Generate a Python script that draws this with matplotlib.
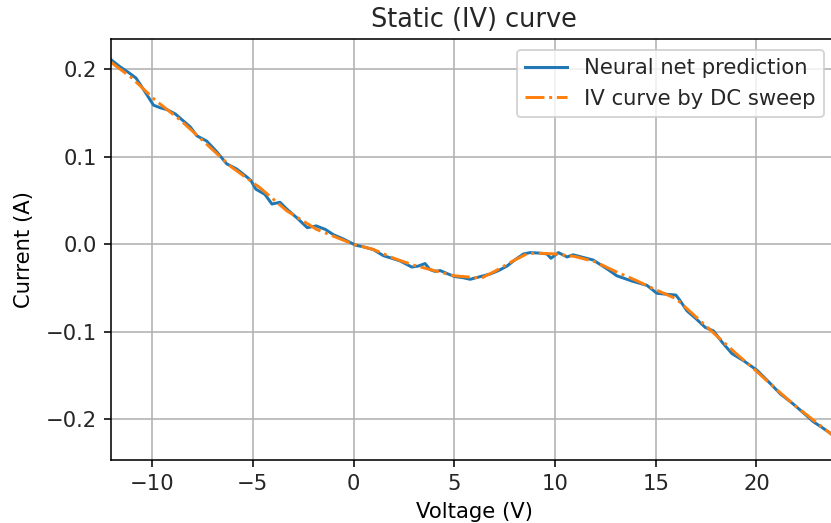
import matplotlib
matplotlib.use("Agg")
import matplotlib.pyplot as plt

## --- Data ---
voltage_nn = [-12.04, -11.6, -11.15, -10.8, -10.4, -9.93, -9.6, -9.27, -8.85, -8.45,
              -8.1, -7.78, -7.29, -6.8, -6.3, -5.8, -5.3, -5.1, -4.85, -4.4,
              -4.05, -3.65, -3.3, -2.8, -2.3, -1.85, -1.4, -1.0, -0.5, 0.1,
              0.5, 0.98, 1.48, 1.9, 2.31, 2.89, 3.2, 3.55, 3.8, 4.05,
              4.3, 4.7, 5.04, 5.4, 5.79, 6.28, 6.78, 7.2, 7.61, 8.0,
              8.44, 8.77, 9.2, 9.6, 9.8, 10.17, 10.6, 10.9, 11.4, 11.9,
              12.58, 13.07, 13.82, 14.57, 15.06, 15.5, 16.0, 16.2, 16.55, 17.0,
              17.46, 17.87, 18.3, 18.79, 19.36, 20.03, 20.6, 21.19, 21.8, 22.4,
              22.84, 23.3, 23.67, 24.0]
current_nn = [0.211, 0.203, 0.196, 0.190, 0.176, 0.159, 0.156, 0.154, 0.149, 0.141,
              0.134, 0.124, 0.118, 0.106, 0.092, 0.086, 0.077, 0.073, 0.063, 0.057,
              0.046, 0.048, 0.040, 0.030, 0.019, 0.021, 0.017, 0.011, 0.006, -0.001,
              -0.003, -0.006, -0.013, -0.016, -0.019, -0.026, -0.025, -0.022, -0.029, -0.031,
              -0.030, -0.034, -0.037, -0.038, -0.040, -0.037, -0.034, -0.030, -0.025, -0.018,
              -0.011, -0.0095, -0.010, -0.011, -0.016, -0.0095, -0.0145, -0.012, -0.015, -0.018,
              -0.028, -0.036, -0.042, -0.047, -0.056, -0.057, -0.058, -0.064, -0.076, -0.085,
              -0.095, -0.099, -0.112, -0.125, -0.133, -0.144, -0.157, -0.171, -0.182, -0.194,
              -0.203, -0.210, -0.216, -0.222]

voltage_dc = [-12.04, -11.0, -9.86, -8.6, -7.6, -6.1, -4.64, -3.3, -1.83, 0.0,
              1.0, 2.0, 3.0, 4.0, 5.0, 6.0, 6.4, 7.0, 8.0, 8.6,
              9.0, 10.0, 11.0, 12.0, 13.0, 14.0, 15.0, 16.0, 17.0, 18.0,
              19.0, 20.0, 21.0, 22.0, 23.0, 24.0]
current_dc = [0.208, 0.190, 0.165, 0.142, 0.121, 0.089, 0.0645, 0.038, 0.017, 0.0,
              -0.006, -0.016, -0.024, -0.030, -0.036, -0.038, -0.038, -0.031, -0.018, -0.011,
              -0.010, -0.011, -0.014, -0.020, -0.031, -0.041, -0.052, -0.062, -0.083, -0.104,
              -0.125, -0.145, -0.166, -0.186, -0.204, -0.222]

## --- Plot ---
DPI = 142
plt.rcParams["font.size"] = 10.7
plt.rcParams["text.color"] = "#262626"
plt.rcParams["xtick.labelcolor"] = "#262626"
plt.rcParams["ytick.labelcolor"] = "#262626"

fig = plt.figure(figsize=(831 / DPI, 523 / DPI), dpi=DPI)
# axes runs slightly past the right edge, as in the cropped reference
ax = fig.add_axes([111 / 831, 63 / 523, 726 / 831, 421 / 523])

ax.plot(voltage_nn, current_nn, color="#1f77b4", linestyle="-", label="Neural net prediction")
ax.plot(voltage_dc, current_dc, color="#ff7f0e", linestyle="-.", label="IV curve by DC sweep")

ax.set_xlim(-12.04, 24.0)
ax.set_ylim(-0.2465, 0.2346)
ax.set_xticks([-10, -5, 0, 5, 10, 15, 20])
ax.set_yticks([-0.2, -0.1, 0.0, 0.1, 0.2])
ax.grid(True)

ax.set_title("Static (IV) curve", fontsize=13)
ax.set_xlabel("Voltage (V)")
ax.set_ylabel("Current (A)", labelpad=6)
ax.legend(loc="upper right", bbox_to_anchor=(0.997, 1.0))

fig.savefig("out.png", dpi=DPI)
